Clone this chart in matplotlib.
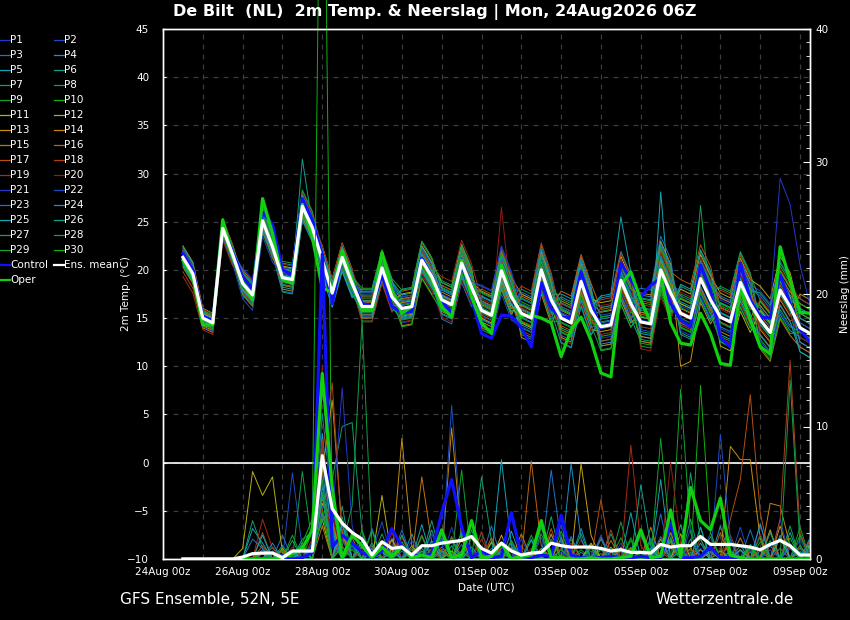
import matplotlib
matplotlib.use("Agg")
import matplotlib.pyplot as plt
from matplotlib.lines import Line2D
from matplotlib.ticker import MultipleLocator
import numpy as np

# 6-hourly steps, 24Aug 12z .. 09Sep 06z (x in days since 24Aug 00z)
N_STEPS = 64
DATE_LABELS = ["24Aug 00z", "26Aug 00z", "28Aug 00z", "30Aug 00z", "01Sep 00z",
               "03Sep 00z", "05Sep 00z", "07Sep 00z", "09Sep 00z"]

MEAN_T = [21.3, 19.6, 15.0, 14.5, 24.3, 21.6, 18.6, 17.4, 25.1, 22.4, 19.2, 19.0,
          26.6, 24.4, 21.0, 17.6, 21.3, 18.6, 16.2, 16.2, 20.2, 17.2, 16.0, 16.2,
          21.0, 19.3, 16.9, 16.4, 20.7, 18.2, 15.8, 15.3, 19.9, 17.2, 15.5, 15.0,
          20.0, 16.9, 15.0, 14.5, 18.8, 15.8, 14.1, 14.3, 18.9, 16.5, 14.6, 14.4,
          20.0, 17.6, 15.5, 15.0, 19.1, 16.9, 15.1, 14.6, 18.7, 16.5, 14.8, 13.5,
          17.9, 16.2, 14.0, 13.4]
CONTROL_T = [21.7, 20.0, 15.2, 14.7, 24.6, 21.8, 19.3, 18.0, 26.0, 24.7, 20.0, 19.5,
             27.4, 25.2, 21.5, 16.5, 21.5, 19.0, 16.5, 16.3, 19.5, 16.2, 15.6, 15.7,
             21.2, 19.3, 16.8, 15.5, 20.8, 17.0, 13.4, 12.9, 15.3, 15.2, 14.0, 12.0,
             18.7, 16.0, 15.1, 15.0, 19.8, 16.5, 14.0, 14.5, 20.7, 19.0, 17.2, 18.4,
             19.1, 16.5, 14.8, 14.1, 20.5, 17.9, 13.0, 12.0, 20.7, 16.9, 15.1, 15.0,
             19.5, 16.5, 13.8, 12.5]
OPER_T = [21.0, 19.3, 14.3, 14.3, 25.2, 21.3, 18.7, 16.9, 27.4, 23.8, 19.0, 18.6,
          26.8, 23.4, 18.1, 17.7, 22.0, 19.0, 15.8, 15.8, 21.8, 17.9, 15.5, 16.2,
          21.0, 19.0, 16.2, 15.1, 21.0, 17.2, 14.5, 13.4, 20.5, 17.5, 15.2, 15.3,
          15.0, 14.5, 11.0, 13.8, 15.1, 12.7, 9.3, 8.9, 18.4, 19.8, 16.9, 14.5,
          19.5, 14.5, 12.4, 12.2, 15.5, 13.4, 10.3, 10.1, 18.2, 14.8, 12.0, 11.3,
          22.4, 18.9, 15.6, 15.5]

MEAN_P = [0, 0, 0, 0, 0, 0, 0.15, 0.4, 0.45, 0.45, 0.1, 0.6,
          0.6, 0.6, 7.8, 3.8, 2.7, 2.0, 1.5, 0.3, 1.3, 0.8, 0.9, 0.3,
          1.0, 1.0, 1.2, 1.3, 1.4, 1.7, 0.8, 0.45, 1.2, 0.6, 0.3, 0.45,
          0.5, 1.2, 1.0, 0.9, 0.9, 0.9, 0.8, 0.6, 0.7, 0.5, 0.5, 0.45,
          1.1, 0.9, 1.0, 1.0, 1.7, 1.1, 1.1, 1.1, 1.0, 0.9, 0.7, 1.1,
          1.4, 1.0, 0.3, 0.3]
CONTROL_P = [0, 0, 0, 0, 0, 0, 0, 0, 0, 0, 0, 0,
             0.1, 0.5, 23.0, 0.9, 1.8, 1.2, 0.5, 0.1, 0.6, 2.3, 0.9, 0.3,
             0.2, 0.4, 3.5, 6.0, 2.4, 0.1, 0.6, 0.1, 0.2, 3.5, 0.2, 0.1,
             0.3, 0.2, 3.3, 0.3, 0.1, 0.1, 0.1, 0.2, 0.1, 0.1, 0.2, 0.1,
             0.1, 2.7, 0.1, 0.1, 0.2, 0.9, 0.1, 0.1, 0, 0, 0, 0,
             0, 0, 0, 0]
OPER_P = [0, 0, 0, 0, 0, 0, 0, 0, 0, 0, 0.1, 0.4,
          0.8, 2.2, 14.0, 5.4, 0.1, 1.8, 1.0, 0.1, 0.9, 0.2, 0.9, 0.1,
          0.3, 0.1, 2.2, 0.1, 0.3, 2.9, 0.1, 0.2, 1.2, 0, 0.2, 0.3,
          2.9, 0.1, 0.1, 0, 0, 0.1, 0, 0, 0.1, 0.2, 2.2, 0.1,
          0.2, 3.7, 0.1, 5.4, 2.9, 2.2, 4.6, 0.3, 0.1, 0, 0, 0,
          0, 0, 0, 0]

MEMBER_NAMES = [f"P{k}" for k in range(1, 31)]
BASE_COLORS = ["#2438c8", "#1c4cc0", "#1e74c4", "#1a90c4", "#12a4b4",
               "#10a088", "#10a068", "#10a048", "#10a428", "#10b010",
               "#b4b010", "#c4a010", "#c49010", "#c48410", "#c07410",
               "#bc6410", "#b45010", "#ac4018", "#a42c18", "#901c18"]
MEMBER_COLORS = BASE_COLORS + BASE_COLORS[:10]

# daily temperature offset of each member against the ensemble mean (24Aug .. 09Sep)
MEMBER_T_OFFSET = {
    "P1": [0.5, 0.3, 0.8, 1.0, -0.5, -1.0, 0.5, 1.5, -1.0, 2.0, 1.0, -2.0, 0.5, 2.5, 1.0, -1.5, -2.0],
    "P2": [-0.3, -0.5, -1.0, 0.5, 1.0, -0.8, -1.5, 0.5, 2.5, -1.0, 1.5, 2.0, -1.5, 0.0, 2.0, 3.0, 1.0],
    "P3": [0.8, 0.5, 0.2, -0.5, -1.5, 1.2, 0.8, -2.0, 0.5, 1.5, -2.5, 1.0, 3.5, -1.0, -2.5, 0.5, 2.5],
    "P4": [0.2, -0.2, 1.2, 1.5, 0.3, 0.5, -1.0, 1.0, -0.5, -2.0, 0.5, 3.0, 1.0, 1.5, -1.0, -2.5, -1.0],
    "P5": [-0.6, 0.6, 0.5, -1.0, 0.8, 1.5, 1.0, -0.5, 1.5, 0.5, 2.5, -1.5, -2.0, 3.0, 0.5, 1.5, 3.0],
    "P6": [1.0, 0.4, -0.3, 0.3, -0.8, -0.3, 2.0, 1.2, -1.5, 1.0, -1.0, 0.5, 2.5, -2.0, 1.5, -0.5, -2.5],
    "P7": [0.4, -0.4, -0.8, -1.5, 1.2, 0.8, -0.5, -1.5, 0.8, -1.5, 1.0, 2.0, -1.0, 1.0, 3.0, 2.0, 0.5],
    "P8": [-0.8, 0.8, 0.6, 0.8, -0.2, -1.5, 1.2, 2.0, -2.0, 2.5, -1.5, -2.5, 1.5, -0.5, -2.0, 1.0, 1.5],
    "P9": [0.6, -0.6, -0.5, 0.2, 0.5, 0.2, -1.2, 0.3, 1.8, -0.5, 2.0, 1.0, -2.5, 2.0, 0.0, -2.0, -0.5],
    "P10": [-0.2, 0.2, 1.0, -0.8, -1.0, 1.0, 0.3, -1.0, 0.3, 1.2, -0.5, -1.0, 2.0, -1.5, 1.5, 2.5, 2.0],
    "P11": [0.0, -0.8, 0.4, 1.2, 0.8, -0.5, 1.5, 1.8, -0.8, -1.0, 1.2, 2.5, 0.5, 1.0, -3.0, 1.0, -1.5],
    "P12": [-0.5, 0.5, -0.6, -0.3, -0.3, 0.6, -0.8, 0.5, 2.0, 2.0, -2.0, -0.5, -1.5, 2.5, 2.5, 3.5, 1.5],
    "P13": [1.2, 1.0, 0.6, 0.6, 1.5, -1.2, 0.6, -1.2, -1.2, 0.8, 0.8, 1.5, 3.0, -2.5, 1.0, -1.0, 3.5],
    "P14": [-1.0, -1.0, -0.2, -1.2, -0.6, 1.8, -1.8, 0.8, 1.0, -2.5, 1.8, -2.0, 1.0, 0.5, -1.5, 2.0, 0.0],
    "P15": [0.3, 0.0, 1.4, 0.9, 0.2, -0.8, 1.0, -0.3, -1.8, 1.8, -1.2, 0.0, -2.0, 1.5, 2.0, -3.0, -2.0],
    "P16": [-0.4, -0.3, -1.2, 0.1, 1.0, 0.4, -0.3, 1.5, 0.6, -0.8, 2.8, 1.8, 0.8, -1.0, -0.5, 1.5, 2.5],
    "P17": [0.7, 0.6, 0.0, -0.8, -1.2, -0.2, 1.8, -0.8, 2.2, 0.3, -0.8, -1.5, 2.2, 3.5, 1.0, 0.5, -0.5],
    "P18": [-1.5, -0.7, -0.9, 0.7, 0.6, 1.1, -0.6, 0.2, -0.3, 2.8, 0.3, 2.8, -0.5, -1.2, 2.8, -1.5, 1.0],
    "P19": [-2.0, -1.2, 0.9, -0.5, -0.4, -1.6, 0.9, 2.4, 1.2, -1.8, 1.5, -0.8, 1.8, 0.2, -2.2, 2.2, 3.0],
    "P20": [0.1, 0.9, -0.4, 1.4, 1.4, 0.9, -1.4, -1.8, -0.6, 0.6, -2.2, 2.2, -2.8, 2.2, 0.8, -0.8, -1.0],
    "P21": [0.9, 0.1, 1.6, -0.2, -0.9, -0.4, 1.2, 0.6, 2.6, 1.0, 0.6, -1.2, 0.2, -1.8, 1.8, 2.5, 3.0],
    "P22": [-0.1, -0.9, -1.6, 0.4, 0.4, 1.4, -0.2, -0.6, -2.4, -1.4, 1.2, 1.2, -0.8, 0.8, -1.2, -2.2, 0.5],
    "P23": [0.5, 0.2, 0.7, -1.4, -0.7, -0.9, 0.4, 1.1, 0.9, 2.2, -1.8, 0.4, 1.4, 1.8, 2.2, 0.2, -1.5],
    "P24": [-0.7, 0.4, -0.7, 1.1, 1.1, 0.2, -0.9, -1.4, 1.4, -0.4, 2.2, -1.8, 2.8, -0.8, 0.4, 1.2, 2.0],
    "P25": [0.2, -0.2, 0.2, 0.2, -1.4, 1.6, 1.4, 0.4, -0.9, 0.4, 0.4, 3.2, -1.2, 1.2, -1.8, -1.6, -2.5],
    "P26": [-0.3, 0.7, 1.1, -0.7, 0.2, -1.1, -1.1, -0.9, 0.2, -1.2, -2.6, 0.8, 1.2, -2.2, 1.4, 2.8, 1.0],
    "P27": [1.1, -0.3, -1.1, 0.9, 0.9, 0.6, 0.7, 1.8, -1.6, 1.6, 1.6, -0.2, -1.8, 2.8, -0.6, 0.8, 0.0],
    "P28": [-0.9, -0.1, 0.3, -0.1, -1.1, -0.6, -0.7, -0.2, 1.9, -2.2, -0.4, 1.6, 2.4, 0.6, 3.2, -0.4, 1.5],
    "P29": [0.4, 0.8, -0.3, 1.7, 0.7, 1.9, 1.9, 1.3, -0.2, 0.9, 0.9, -2.4, 0.6, -1.4, -2.6, 1.9, 2.5],
    "P30": [-0.4, -0.6, 0.5, -0.4, -0.6, -0.2, -1.9, -1.1, 0.7, -0.9, -1.4, 0.2, -2.2, 1.6, 1.2, -2.8, -0.5],
}
# single 6-hourly values that stand out from a member's daily offset
MEMBER_T_PEAKS = {
    "P6": {12: 31.5},
    "P20": {32: 26.5},
    "P5": {48: 28.1},
    "P25": {44: 25.5},
    "P8": {52: 26.7},
    "P13": {50: 10.0, 51: 10.5},
    "P21": {60: 29.5, 61: 26.8, 62: 20.5},
}

# member precipitation (mm / 6h), steps not listed are dry
MEMBER_P = {
    "P1": {12: 0.4, 13: 1.0, 14: 6.0, 15: 2.5, 17: 0.8, 21: 1.6, 24: 0.5, 27: 2.4, 30: 0.9, 33: 0.4, 37: 1.8, 41: 0.6, 44: 1.2, 50: 0.8, 53: 2.0, 57: 0.7, 60: 3.0},
    "P2": {9: 0.6, 11: 6.5, 12: 0.8, 14: 8.5, 15: 1.2, 19: 0.5, 20: 2.8, 23: 0.4, 26: 1.5, 29: 0.7, 34: 1.0, 38: 2.6, 43: 0.5, 47: 1.6, 52: 0.8, 56: 2.4, 61: 1.1},
    "P3": {7: 0.5, 10: 1.8, 13: 0.9, 14: 11.0, 15: 4.0, 18: 1.4, 22: 2.2, 25: 0.8, 28: 1.1, 31: 2.5, 36: 0.6, 39: 1.7, 45: 0.9, 48: 3.4, 51: 0.5, 55: 1.3, 58: 2.7, 62: 0.6},
    "P4": {8: 0.7, 11: 0.4, 14: 5.5, 16: 2.8, 19: 1.2, 23: 1.9, 26: 0.5, 29: 2.8, 32: 0.8, 35: 1.5, 40: 2.3, 44: 0.6, 46: 1.8, 49: 0.9, 54: 2.5, 59: 1.0, 63: 1.6},
    "P5": {7: 2.3, 8: 1.2, 12: 0.6, 14: 9.5, 15: 2.2, 17: 1.0, 20: 0.6, 24: 2.6, 27: 1.0, 30: 0.5, 33: 2.1, 38: 1.4, 42: 0.8, 45: 3.5, 48: 6.0, 52: 1.2, 57: 0.5, 61: 2.0},
    "P6": {9: 0.9, 12: 1.5, 13: 2.0, 14: 7.0, 16: 4.0, 19: 0.4, 22: 1.3, 25: 2.9, 28: 0.6, 31: 1.2, 36: 2.4, 40: 0.5, 43: 1.9, 47: 0.7, 50: 2.6, 55: 1.5, 60: 0.8, 63: 1.2},
    "P7": {7: 2.9, 8: 0.8, 13: 1.2, 14: 4.0, 15: 6.0, 16: 10.0, 17: 10.3, 18: 2.0, 21: 0.8, 24: 1.8, 29: 2.2, 33: 0.9, 37: 3.2, 41: 1.1, 46: 0.6, 51: 3.0, 56: 1.0, 62: 0.8},
    "P8": {10: 0.6, 12: 6.6, 13: 1.0, 14: 5.0, 16: 3.2, 20: 1.9, 23: 0.7, 27: 1.4, 30: 2.0, 34: 0.6, 39: 1.5, 44: 2.8, 48: 0.9, 53: 1.7, 58: 0.6, 61: 2.5},
    "P9": {11: 1.8, 13: 0.6, 14: 3.5, 15: 1.5, 18: 2.2, 22: 0.8, 26: 1.9, 28: 6.7, 31: 0.6, 35: 1.8, 40: 0.7, 45: 1.6, 50: 12.8, 51: 2.0, 55: 0.6, 59: 1.4},
    "P10": {12: 1.2, 13: 3.0, 14: 70.0, 15: 2.5, 17: 0.7, 21: 1.4, 25: 0.5, 29: 1.6, 33: 0.8, 38: 2.1, 42: 0.4, 47: 1.3, 52: 2.4, 57: 0.9, 62: 1.8},
    "P11": {6: 0.8, 7: 6.6, 8: 4.8, 9: 6.2, 10: 0.5, 13: 0.6, 14: 3.0, 16: 1.5, 20: 4.8, 23: 1.0, 27: 0.6, 32: 1.8, 36: 0.8, 41: 1.2, 46: 0.5, 50: 1.9, 56: 0.7, 60: 1.6},
    "P12": {9: 0.5, 12: 1.0, 14: 4.2, 15: 2.8, 18: 0.9, 21: 1.5, 26: 0.7, 31: 1.3, 35: 0.5, 40: 7.2, 41: 1.8, 45: 0.8, 49: 1.4, 54: 0.6, 59: 2.2, 63: 0.9},
    "P13": {8: 0.4, 13: 0.8, 14: 6.5, 15: 12.0, 16: 2.0, 19: 0.8, 22: 9.1, 23: 1.0, 28: 1.5, 32: 0.6, 37: 1.9, 43: 0.9, 48: 1.5, 52: 0.7, 55: 8.5, 56: 7.5, 57: 7.5, 58: 1.5, 60: 2.5},
    "P14": {10: 0.8, 14: 5.0, 16: 1.8, 20: 1.2, 24: 0.6, 27: 9.9, 28: 1.5, 33: 0.8, 38: 1.6, 44: 0.9, 49: 2.0, 53: 0.5, 59: 4.2, 60: 4.0, 61: 1.0},
    "P15": {9: 0.4, 12: 0.9, 14: 2.5, 17: 1.6, 21: 0.7, 24: 6.2, 25: 1.2, 30: 0.8, 34: 1.9, 39: 0.6, 43: 1.4, 47: 2.4, 51: 0.8, 56: 1.6, 62: 1.0},
    "P16": {11: 0.7, 14: 4.5, 15: 3.0, 18: 0.6, 22: 1.8, 26: 0.9, 31: 1.6, 35: 7.4, 36: 1.0, 42: 1.7, 46: 0.6, 50: 1.2, 54: 2.0, 58: 0.8, 63: 1.4},
    "P17": {8: 1.0, 13: 0.5, 14: 3.8, 16: 2.2, 19: 1.0, 23: 0.5, 27: 1.7, 32: 0.9, 37: 2.3, 42: 4.5, 44: 0.7, 49: 1.3, 55: 3.0, 56: 6.0, 57: 12.4, 58: 3.5, 61: 1.0},
    "P18": {8: 2.0, 10: 0.6, 14: 8.0, 15: 13.3, 16: 1.5, 20: 0.9, 24: 1.8, 29: 0.6, 33: 1.4, 38: 0.8, 43: 2.2, 48: 0.5, 52: 1.5, 57: 0.6, 60: 3.0, 61: 15.0, 62: 2.0},
    "P19": {8: 3.0, 9: 0.8, 13: 1.5, 14: 9.0, 16: 1.0, 21: 2.0, 25: 0.7, 30: 1.5, 34: 0.5, 39: 1.2, 45: 8.6, 46: 1.0, 51: 0.7, 55: 1.8, 60: 0.8},
    "P20": {11: 0.9, 14: 14.6, 15: 3.5, 18: 0.7, 22: 1.6, 26: 0.6, 30: 2.1, 35: 0.8, 40: 1.4, 44: 0.5, 49: 7.3, 50: 1.2, 54: 0.9, 58: 1.9, 63: 0.6},
    "P21": {9: 0.5, 12: 0.8, 14: 4.0, 15: 3.0, 16: 12.9, 17: 2.5, 21: 1.1, 25: 1.9, 29: 0.6, 34: 1.5, 38: 0.5, 42: 1.8, 47: 0.9, 51: 2.3, 56: 0.6, 61: 1.2},
    "P22": {10: 0.4, 13: 1.2, 14: 6.0, 16: 1.5, 19: 0.9, 23: 1.4, 27: 11.6, 28: 2.0, 32: 0.7, 36: 1.6, 41: 0.6, 46: 2.0, 50: 0.8, 54: 9.4, 55: 1.5, 59: 0.7, 62: 1.5},
    "P23": {7: 1.5, 8: 0.8, 14: 3.2, 15: 1.8, 19: 2.3, 22: 0.6, 26: 1.6, 31: 0.8, 37: 6.7, 38: 1.2, 43: 0.8, 48: 1.7, 53: 0.6, 57: 2.2, 61: 0.8},
    "P24": {9: 1.2, 11: 0.6, 14: 7.5, 15: 2.0, 18: 1.3, 24: 0.8, 28: 2.1, 33: 1.2, 39: 7.2, 40: 1.5, 44: 0.7, 49: 1.6, 53: 0.9, 58: 2.6, 63: 0.7},
    "P25": {8: 1.8, 12: 0.7, 14: 5.0, 16: 2.6, 20: 0.5, 25: 1.4, 29: 0.9, 32: 7.5, 33: 1.0, 37: 0.6, 42: 1.5, 47: 0.8, 52: 2.4, 56: 0.7, 60: 1.8},
    "P26": {10: 1.0, 14: 4.8, 17: 1.2, 21: 0.5, 25: 2.2, 30: 0.7, 35: 1.4, 41: 0.9, 46: 5.6, 47: 1.0, 51: 1.5, 55: 0.6, 59: 2.0, 63: 1.0},
    "P27": {11: 1.4, 13: 0.8, 14: 2.8, 15: 4.5, 18: 1.0, 22: 1.8, 26: 0.6, 30: 6.2, 31: 1.4, 36: 0.6, 40: 1.9, 45: 0.7, 51: 6.5, 52: 1.5, 57: 1.1, 62: 0.5},
    "P28": {9: 0.6, 12: 1.2, 14: 5.0, 16: 1.0, 17: 4.0, 18: 18.0, 19: 1.0, 23: 0.8, 27: 1.6, 32: 0.5, 36: 1.9, 42: 0.7, 47: 1.5, 53: 0.8, 58: 1.7, 61: 13.5, 62: 1.0},
    "P29": {8: 0.5, 13: 2.2, 14: 6.0, 17: 1.3, 20: 0.7, 24: 1.7, 28: 0.5, 33: 1.4, 38: 0.7, 44: 1.6, 48: 9.1, 49: 1.2, 54: 0.7, 58: 1.3, 62: 2.4},
    "P30": {10: 0.7, 14: 3.5, 16: 0.9, 19: 2.1, 24: 0.6, 28: 1.9, 32: 0.6, 37: 1.5, 41: 0.8, 45: 1.4, 50: 0.6, 52: 13.1, 53: 2.0, 57: 0.8, 61: 1.6},
}

x = 0.5 + 0.25 * np.arange(N_STEPS)
day_of_step = (np.arange(N_STEPS) + 2) // 4
mean_t = np.array(MEAN_T)


def member_temp(name):
    t = mean_t + np.array(MEMBER_T_OFFSET[name])[day_of_step]
    for i, v in MEMBER_T_PEAKS.get(name, {}).items():
        t[i] = v
    return t


def member_precip(name):
    p = np.zeros(N_STEPS)
    for i, v in MEMBER_P[name].items():
        p[i] = v
    return p


W, H = 850, 620
fig = plt.figure(figsize=(W / 100, H / 100), dpi=100, facecolor="black")
ax = fig.add_axes([163 / W, 1 - 559 / H, (810 - 163) / W, (559 - 29) / H])
ax.set_facecolor("black")
ax2 = ax.twinx()

for name, col in zip(MEMBER_NAMES, MEMBER_COLORS):
    ax.plot(x, member_temp(name), color=col, lw=0.7, zorder=2)
    ax2.plot(x, member_precip(name), color=col, lw=0.7, zorder=2,
             clip_on=(name != "P10"))

ax.plot(x, CONTROL_T, color="#1010ff", lw=2.3, zorder=4)
ax.plot(x, OPER_T, color="#10d010", lw=2.3, zorder=5)
ax.plot(x, MEAN_T, color="white", lw=2.3, zorder=6)
ax2.plot(x, CONTROL_P, color="#1010ff", lw=2.3, zorder=4)
ax2.plot(x, OPER_P, color="#10d010", lw=2.3, zorder=5)
ax2.plot(x, MEAN_P, color="white", lw=2.3, zorder=6)

ax.set_xlim(0, 16.25)
ax.set_ylim(-10, 45)
ax2.set_ylim(0, 40)
ax.axhline(0, color="white", lw=1.2, zorder=3)

ax.set_xticks(range(0, 17, 2))
ax.set_xticklabels(DATE_LABELS)
ax.xaxis.set_minor_locator(MultipleLocator(1))
ax.set_yticks(range(-10, 46, 5))
ax.grid(True, which="both", axis="x", color="#3c3c3c", lw=0.9, ls=(0, (4, 4)))
ax.grid(True, which="major", axis="y", color="#3c3c3c", lw=0.9, ls=(0, (4, 4)))
ax.set_axisbelow(True)

ax.tick_params(axis="x", which="both", colors="white", labelsize=7.5, length=0, pad=6)
ax.tick_params(axis="y", colors="white", labelsize=7.5, direction="in", length=2, pad=10)
ax2.set_yticks(range(0, 41, 10))
ax2.yaxis.set_minor_locator(MultipleLocator(1))
ax2.tick_params(axis="y", which="major", colors="white", labelsize=7.5, direction="in", length=5, pad=4)
ax2.tick_params(axis="y", which="minor", colors="white", direction="in", length=3)
for a in (ax, ax2):
    for sp in a.spines.values():
        sp.set_color("white")
        sp.set_linewidth(1)

ax.set_ylabel("2m Temp. (°C)", color="white", fontsize=7.5)
ax.yaxis.set_label_coords((131 - 163) / 647, 0.5)
ax2.set_ylabel("Neerslag (mm)", color="white", fontsize=7.5)
ax2.yaxis.set_label_coords((840 - 163) / 647, 0.5)
ax.set_xlabel("Date (UTC)", color="white", fontsize=7.5, labelpad=4)

fig.text(435 / W, 1 - 12 / H, "De Bilt  (NL)  2m Temp. & Neerslag | Mon, 24Aug2026 06Z",
         color="white", fontsize=11.5, fontweight="bold", ha="center", va="center")
fig.text(120 / W, 1 - 599 / H, "GFS Ensemble, 52N, 5E", color="white", fontsize=11,
         ha="left", va="center")
fig.text(794 / W, 1 - 599 / H, "Wetterzentrale.de", color="white", fontsize=11,
         ha="right", va="center")

# legend, two columns at the left edge
entries = [(n, c, 0.9) for n, c in zip(MEMBER_NAMES, MEMBER_COLORS)]
entries += [("Control", "#1010ff", 1.6), ("Ens. mean", "white", 1.6), ("Oper", "#10d010", 1.6)]
for k, (label, col, lw) in enumerate(entries):
    row, colno = divmod(k, 2)
    y = 1 - (40 + 15 * row) / H
    x0 = 0 if colno == 0 else 54
    fig.add_artist(Line2D([x0 / W, (x0 + 10) / W], [y, y], color=col, lw=lw,
                          transform=fig.transFigure))
    fig.text((x0 + 10) / W, y, label, color="white", fontsize=7.5, ha="left", va="center")

fig.savefig("out.png", dpi=100, facecolor="black")
